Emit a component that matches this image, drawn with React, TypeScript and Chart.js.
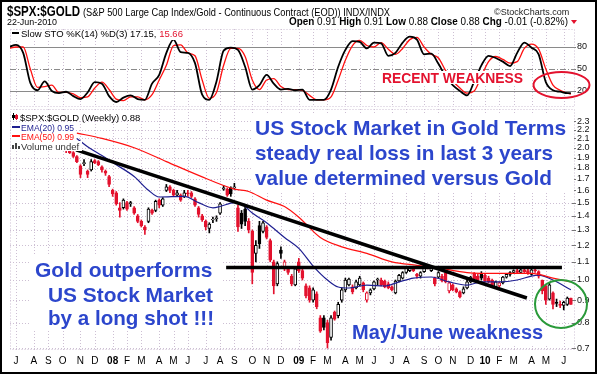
import React, { useEffect, useRef } from "react";
import { Chart, registerables } from "chart.js";

Chart.register(...registerables);

const FONT = "'Liberation Sans', Arial, sans-serif";
Chart.defaults.font.family = FONT;

// x values are week numbers: week 0 = week of 2 Jul 2007
const monthLabels = [
  "J", "A", "S", "O", "N", "D",
  "08", "F", "M", "A", "M", "J", "J", "A", "S", "O", "N", "D",
  "09", "F", "M", "A", "M", "J", "J", "A", "S", "O", "N", "D",
  "10", "F", "M", "A", "M", "J",
];
const monthWeeks = [
  0, 5, 9, 13, 18, 22,
  27, 31, 35, 40, 44, 48, 53, 57, 61, 66, 70, 74,
  79, 83, 87, 92, 96, 100, 105, 109, 114, 118, 122, 127,
  131, 135, 139, 144, 148, 153,
];
const priceTicks = [0.7, 0.8, 0.9, 1.0, 1.1, 1.2, 1.3, 1.4, 1.5, 1.6, 1.7, 1.8, 1.9, 2.0, 2.1, 2.2, 2.3];
const stoTicks = [20, 50, 80];

const firstWeek = 14;
const opens = [
  1.99, 1.97, 1.95, 1.91, 1.82, 1.84, 1.77, 1.78, 1.87, 1.86,
  1.81, 1.77, 1.72, 1.60, 1.58, 1.46, 1.46, 1.50, 1.49, 1.46,
  1.40, 1.36, 1.32, 1.36, 1.44, 1.44, 1.52, 1.48, 1.60, 1.63,
  1.60, 1.56, 1.56, 1.55, 1.58, 1.58, 1.53, 1.46, 1.40, 1.36,
  1.31, 1.37, 1.38, 1.42, 1.61, 1.61, 1.62, 1.62, 1.46, 1.42,
  1.45, 1.36, 1.29, 1.15, 1.33, 1.29, 1.32, 1.23, 1.10, 0.98,
  1.17, 1.06, 1.065, 1.02, 0.975, 1.10, 1.05, 0.97, 0.96, 0.90,
  0.93, 0.82, 0.82, 0.80, 0.74, 0.845, 0.83, 0.90, 0.95, 0.975,
  0.965, 0.96, 0.975, 0.985, 0.90, 0.935, 0.955, 1.00, 1.00, 0.995,
  0.98, 0.965, 0.935, 0.995, 1.01, 1.04, 1.05, 1.07, 1.03, 1.02,
  1.045, 1.075, 1.05, 1.01, 1.015, 1.02, 1.035, 0.945, 0.975, 0.955,
  0.94, 0.935, 0.96, 0.99, 1.035, 1.02, 1.035, 1.025, 1.01, 1.00,
  0.965, 0.97, 0.985, 1.015, 1.03, 1.04, 1.05, 1.04, 1.055, 1.05,
  1.03, 1.055, 1.045, 1.00, 0.97, 0.905, 0.935, 0.89, 0.88, 0.875,
  0.88, 0.91,
];
const highs = [
  2.00, 1.98, 1.96, 1.92, 1.83, 1.88, 1.78, 1.88, 1.88, 1.87,
  1.82, 1.78, 1.73, 1.61, 1.59, 1.50, 1.53, 1.51, 1.51, 1.47,
  1.41, 1.37, 1.33, 1.46, 1.45, 1.52, 1.53, 1.54, 1.65, 1.64,
  1.61, 1.60, 1.57, 1.60, 1.60, 1.59, 1.54, 1.47, 1.41, 1.37,
  1.35, 1.39, 1.40, 1.50, 1.64, 1.62, 1.63, 1.66, 1.48, 1.44,
  1.47, 1.38, 1.30, 1.23, 1.36, 1.36, 1.33, 1.24, 1.11, 1.10,
  1.19, 1.11, 1.07, 1.03, 1.07, 1.12, 1.06, 0.98, 0.97, 0.96,
  0.94, 0.83, 0.83, 0.81, 0.83, 0.85, 0.89, 0.96, 1.01, 1.01,
  0.975, 1.00, 1.02, 0.99, 0.94, 0.955, 0.995, 1.01, 1.01, 1.00,
  0.99, 0.97, 1.00, 1.03, 1.045, 1.07, 1.075, 1.075, 1.035, 1.045,
  1.09, 1.08, 1.07, 1.015, 1.045, 1.03, 1.04, 0.99, 0.98, 0.96,
  0.945, 0.965, 1.00, 1.02, 1.04, 1.03, 1.045, 1.03, 1.02, 1.005,
  0.995, 0.99, 1.02, 1.035, 1.045, 1.055, 1.06, 1.06, 1.065, 1.06,
  1.06, 1.06, 1.05, 1.00, 0.975, 0.985, 0.94, 0.905, 0.895, 0.895,
  0.915, 0.91,
];
const lows = [
  1.95, 1.94, 1.90, 1.85, 1.71, 1.82, 1.71, 1.77, 1.84, 1.82,
  1.76, 1.73, 1.63, 1.55, 1.48, 1.39, 1.45, 1.44, 1.47, 1.41,
  1.35, 1.32, 1.27, 1.35, 1.41, 1.43, 1.46, 1.47, 1.59, 1.58,
  1.55, 1.55, 1.51, 1.54, 1.55, 1.54, 1.47, 1.39, 1.36, 1.30,
  1.28, 1.35, 1.36, 1.41, 1.60, 1.55, 1.55, 1.61, 1.29, 1.31,
  1.33, 1.28, 0.98, 1.10, 1.18, 1.28, 1.24, 1.10, 0.93, 0.97,
  1.12, 1.05, 1.03, 0.97, 0.97, 1.04, 1.00, 0.91, 0.89, 0.89,
  0.86, 0.76, 0.77, 0.70, 0.73, 0.81, 0.82, 0.89, 0.94, 0.97,
  0.93, 0.955, 0.97, 0.94, 0.89, 0.925, 0.95, 0.975, 0.97, 0.96,
  0.955, 0.945, 0.93, 0.99, 1.005, 1.035, 1.045, 1.045, 1.01, 1.01,
  1.04, 1.06, 1.045, 0.97, 1.01, 0.99, 0.985, 0.935, 0.945, 0.935,
  0.91, 0.93, 0.955, 0.985, 1.00, 0.99, 1.00, 0.99, 0.985, 0.97,
  0.96, 0.955, 0.98, 1.01, 1.02, 1.035, 1.035, 1.035, 1.04, 1.03,
  1.025, 1.04, 1.01, 0.93, 0.88, 0.90, 0.86, 0.87, 0.865, 0.855,
  0.875, 0.88,
];
const closes = [
  1.97, 1.95, 1.91, 1.86, 1.74, 1.85, 1.74, 1.86, 1.85, 1.83,
  1.78, 1.75, 1.65, 1.57, 1.49, 1.44, 1.52, 1.45, 1.50, 1.42,
  1.36, 1.33, 1.30, 1.45, 1.42, 1.51, 1.48, 1.53, 1.63, 1.60,
  1.56, 1.58, 1.52, 1.58, 1.57, 1.55, 1.48, 1.41, 1.37, 1.32,
  1.34, 1.375, 1.385, 1.49, 1.62, 1.56, 1.57, 1.63, 1.32, 1.34,
  1.36, 1.30, 1.04, 1.20, 1.21, 1.35, 1.25, 1.11, 0.97, 1.09,
  1.15, 1.10, 1.04, 0.98, 1.06, 1.05, 1.01, 0.92, 0.90, 0.95,
  0.87, 0.765, 0.78, 0.72, 0.82, 0.815, 0.88, 0.95, 1.00, 1.005,
  0.94, 0.99, 1.01, 0.95, 0.935, 0.95, 0.99, 1.005, 0.975, 0.965,
  0.96, 0.95, 0.995, 1.025, 1.04, 1.065, 1.07, 1.05, 1.02, 1.04,
  1.08, 1.065, 1.065, 0.98, 1.04, 0.995, 0.99, 0.985, 0.95, 0.94,
  0.915, 0.955, 0.99, 1.015, 1.005, 1.00, 1.01, 0.995, 0.99, 0.975,
  0.99, 0.985, 1.015, 1.03, 1.04, 1.05, 1.04, 1.055, 1.045, 1.035,
  1.055, 1.05, 1.02, 0.945, 0.90, 0.975, 0.88, 0.885, 0.875, 0.89,
  0.91, 0.88,
];

const ema20Weeks = [17, 20, 24, 28, 33, 37, 40, 47, 51, 55, 57, 61, 63, 66, 70, 75, 79, 83, 87, 90, 93, 98, 103, 107, 111, 116, 121, 126, 130, 135, 140, 144, 146, 150, 155];
const ema20 = [2.10, 2.01, 1.92, 1.83, 1.72, 1.60, 1.545, 1.55, 1.50, 1.46, 1.47, 1.50, 1.49, 1.42, 1.35, 1.25, 1.18, 1.076, 1.00, 0.964, 0.959, 0.974, 0.969, 0.99, 1.01, 1.016, 0.99, 0.974, 0.99, 0.99, 1.00, 1.021, 1.026, 1.00, 0.95];
const ema50Weeks = [17, 24, 33, 42, 51, 61, 65, 70, 75, 79, 85, 91, 98, 105, 112, 118, 126, 135, 144, 150, 155];
const ema50 = [2.16, 2.10, 2.00, 1.86, 1.73, 1.61, 1.59, 1.52, 1.47, 1.39, 1.25, 1.19, 1.15, 1.10, 1.08, 1.065, 1.04, 1.035, 1.035, 1.01, 0.99];

const stoWeeks = [
  -2, 0, 2, 4, 6, 8, 10, 12, 14, 16, 18, 20, 22, 24, 26, 28, 30, 32, 34, 36,
  38, 40, 42, 44, 46, 48, 50, 52, 54, 56, 58, 60, 62, 64, 66, 68, 70, 72, 74, 76,
  78, 80, 82, 84, 86, 88, 90, 92, 94, 96, 98, 100, 102, 104, 106, 108, 110, 112, 114, 116,
  118, 120, 122, 124, 126, 128, 130, 132, 134, 136, 138, 140, 142, 144, 146, 148, 150, 152, 154, 155,
];
const stoK = [
  80, 83, 72, 31, 21, 33, 20, 17, 19, 13, 9, 18, 32, 30, 13, 5, 11, 14, 9, 8,
  30, 42, 72, 90, 73, 72, 58, 15, 8, 33, 75, 79, 76, 53, 22, 28, 42, 30, 22, 23,
  21, 22, 8, 8, 8, 22, 53, 76, 88, 87, 78, 86, 85, 68, 72, 86, 94, 90, 70, 71,
  57, 40, 28, 20, 14, 33, 55, 68, 65, 60, 54, 72, 86, 79, 70, 32, 21, 19, 17, 17.15,
];
const stoD = [
  78, 80, 80, 50, 25, 26, 28, 18, 18, 16, 11, 12, 24, 32, 22, 9, 7, 12, 12, 8,
  15, 35, 55, 82, 83, 72, 68, 35, 10, 18, 55, 78, 78, 67, 35, 22, 35, 37, 26, 22,
  22, 21, 14, 8, 8, 12, 35, 62, 82, 89, 82, 80, 86, 77, 70, 78, 90, 93, 80, 70,
  65, 48, 34, 24, 17, 20, 40, 60, 67, 63, 58, 60, 78, 84, 77, 50, 28, 21, 17, 15.66,
];

const downTrendWeeks = [16.8, 142.7];
const downTrendValues = [1.977, 0.91];
const supportWeeks = [58.7, 152.5];
const supportValues = [1.068, 1.068];

const X_MIN = -1.68;
const X_MAX = 156.15;
const Y_MIN = 0.693;
const Y_MAX = 2.45;
const STO_MIN = -1.8;
const STO_MAX = 104.5;

const RED = "#e3122e";
const BLACK = "#000000";
const NAVY = "#1e1e90";
const EMA_RED = "#ff1010";
const BLUE_TEXT = "#2c46cc";
const GRID = "#cdbfd3";

const candleColor = (i: number) => {
  const prev = i > 0 ? closes[i - 1] : opens[i];
  return closes[i] < prev ? RED : BLACK;
};

function drawGrid(chart: any, hValues: number[]) {
  const { ctx, chartArea: a, scales } = chart;
  ctx.save();
  ctx.strokeStyle = GRID;
  ctx.lineWidth = 1;
  ctx.setLineDash([1, 2]);
  ctx.beginPath();
  for (const w of monthWeeks) {
    const x = Math.round(scales.x.getPixelForValue(w)) + 0.5;
    ctx.moveTo(x, a.top);
    ctx.lineTo(x, a.bottom);
  }
  for (const v of hValues) {
    const y = Math.round(scales.y.getPixelForValue(v)) + 0.5;
    ctx.moveTo(a.left, y);
    ctx.lineTo(a.right, y);
  }
  ctx.stroke();
  ctx.strokeRect(a.left + 0.5, a.top + 0.5, a.width - 1, a.height - 1);
  ctx.setLineDash([]);
  ctx.strokeStyle = "#777";
  ctx.beginPath();
  for (const v of (chart.scales.y.ticks || []).map((t: any) => t.value)) {
    const y = Math.round(scales.y.getPixelForValue(v)) + 0.5;
    ctx.moveTo(a.right - 3, y);
    ctx.lineTo(a.right + 1, y);
  }
  ctx.stroke();
  ctx.restore();
}

function whiteBox(ctx: CanvasRenderingContext2D, x: number, y: number, w: number, h: number) {
  ctx.fillStyle = "#ffffff";
  ctx.fillRect(x, y, w, h);
}

function text(ctx: CanvasRenderingContext2D, s: string, x: number, y: number, font: string, color: string, maxWidth?: number) {
  ctx.font = font;
  ctx.fillStyle = color;
  ctx.textAlign = "left";
  ctx.textBaseline = "alphabetic";
  if (maxWidth) ctx.fillText(s, x, y, maxWidth);
  else ctx.fillText(s, x, y);
}

const mainPlugin = {
  id: "mainDecor",
  beforeDatasetsDraw(chart: any) {
    drawGrid(chart, priceTicks);
    const ctx = chart.ctx as CanvasRenderingContext2D;
    ctx.save();
    whiteBox(ctx, 252, 113, 322, 80);
    whiteBox(ctx, 30, 255, 192, 76);
    whiteBox(ctx, 347, 320, 206, 25);
    ctx.restore();
  },
  afterDatasetsDraw(chart: any) {
    const ctx = chart.ctx as CanvasRenderingContext2D;
    ctx.save();
    // legend
    const lf = `9.5px ${FONT}`;
    whiteBox(ctx, 11, 111, 147, 10);
    whiteBox(ctx, 11, 122, 63, 28);
    whiteBox(ctx, 11, 141, 71, 10);
    // candle icon
    ctx.fillStyle = BLACK;
    ctx.fillRect(13, 113, 1, 7);
    ctx.fillRect(12, 115, 3, 3);
    ctx.fillStyle = RED;
    ctx.fillRect(16, 114, 1, 6);
    ctx.fillRect(15, 115, 3, 4);
    text(ctx, "$SPX:$GOLD (Weekly) 0.88", 20, 120.5, lf, BLACK, 137);
    ctx.fillStyle = NAVY;
    ctx.fillRect(12, 126, 8, 2);
    text(ctx, "EMA(20) 0.95", 21, 130.5, lf, NAVY, 53);
    ctx.fillStyle = EMA_RED;
    ctx.fillRect(12, 135, 8, 2);
    text(ctx, "EMA(50) 0.99", 21, 140, lf, EMA_RED, 53);
    ctx.fillStyle = "#444";
    ctx.fillRect(12, 145, 2, 4);
    ctx.fillRect(15, 143, 2, 6);
    ctx.fillRect(18, 146, 2, 3);
    text(ctx, "Volume undef", 21, 149.5, lf, "#333", 59);

    // annotations
    const bf = `bold 21px ${FONT}`;
    text(ctx, "US Stock Market in Gold Terms", 255, 135, bf, BLUE_TEXT, 312);
    text(ctx, "steady real loss in last 3 years", 255, 160, bf, BLUE_TEXT, 298);
    text(ctx, "value determined versus Gold", 255, 185, bf, BLUE_TEXT, 297);
    text(ctx, "Gold outperforms", 35, 277, bf, BLUE_TEXT, 178);
    text(ctx, "US Stock Market", 48, 301.5, bf, BLUE_TEXT, 165);
    text(ctx, "by a long shot !!!", 48, 325, bf, BLUE_TEXT, 166);
    text(ctx, "May/June weakness", 352, 339, `bold 20px ${FONT}`, BLUE_TEXT, 196);
    ctx.restore();
  },
  afterDraw(chart: any) {
    const ctx = chart.ctx as CanvasRenderingContext2D;
    ctx.save();
    // green circle
    ctx.strokeStyle = "#2a9a3a";
    ctx.lineWidth = 2;
    ctx.beginPath();
    ctx.ellipse(561, 304, 26, 24, 0, 0, Math.PI * 2);
    ctx.stroke();

    // header
    text(ctx, "$SPX:$GOLD", 7, 16, `bold 14px ${FONT}`, BLACK, 73);
    text(ctx, "(S&P 500 Large Cap Index/Gold - Continuous Contract (EOD)) INDX/INDX", 83, 15.5, `10px ${FONT}`, BLACK, 307);
    text(ctx, "\u00A9StockCharts.com", 494, 15, `9px ${FONT}`, "#222", 82);
    text(ctx, "22-Jun-2010", 7, 25, `9px ${FONT}`, BLACK, 50);
    const segs: [string, string][] = [
      ["Open", "bold"], [" 0.91 ", ""], ["High", "bold"], [" 0.91 ", ""], ["Low", "bold"], [" 0.88 ", ""],
      ["Close", "bold"], [" 0.88 ", ""], ["Chg", "bold"], [" -0.01 (-0.82%)", ""],
    ];
    let total = 0;
    for (const [s, w] of segs) {
      ctx.font = `${w} 10px ${FONT}`;
      total += ctx.measureText(s).width;
    }
    const scale = Math.min(1, 279 / total);
    let x = 289;
    for (const [s, w] of segs) {
      ctx.font = `${w} 10px ${FONT}`;
      const wd = ctx.measureText(s).width * scale;
      text(ctx, s, x, 25, `${w} 10px ${FONT}`, BLACK, wd);
      x += wd;
    }
    ctx.fillStyle = RED;
    ctx.beginPath();
    ctx.moveTo(571, 20);
    ctx.lineTo(577, 20);
    ctx.lineTo(574, 24);
    ctx.closePath();
    ctx.fill();

    // frame
    ctx.strokeStyle = BLACK;
    ctx.lineWidth = 2;
    ctx.strokeRect(1, 1, 595, 372);
    ctx.restore();
  },
};

const stoPlugin = {
  id: "stoDecor",
  beforeDatasetsDraw(chart: any) {
    drawGrid(chart, []);
    const { ctx, chartArea: a, scales } = chart;
    ctx.save();
    ctx.strokeStyle = "#8a8a8a";
    ctx.lineWidth = 1;
    for (const v of stoTicks) {
      const y = Math.round(scales.y.getPixelForValue(v)) + 0.5;
      ctx.setLineDash(v === 50 ? [6, 2, 1, 2] : []);
      ctx.beginPath();
      ctx.moveTo(a.left, y);
      ctx.lineTo(a.right, y);
      ctx.stroke();
    }
    ctx.restore();
  },
  afterDatasetsDraw(chart: any) {
    const ctx = chart.ctx as CanvasRenderingContext2D;
    ctx.save();
    whiteBox(ctx, 11, 30, 198, 10);
    ctx.fillStyle = BLACK;
    ctx.fillRect(12, 32, 7, 2);
    const lf = `9.5px ${FONT}`;
    ctx.font = lf;
    const part1 = "Slow STO %K(14) %D(3) 17.15, ";
    text(ctx, part1, 21, 36.5, lf, BLACK, 150);
    const w1 = Math.min(150, ctx.measureText(part1).width);
    text(ctx, "15.66", 21 + w1, 36.5, lf, RED, 30);

    whiteBox(ctx, 380, 71, 146, 13);
    text(ctx, "RECENT WEAKNESS", 382, 82.7, `bold 15px ${FONT}`, RED, 141);

    ctx.strokeStyle = RED;
    ctx.lineWidth = 2;
    ctx.beginPath();
    ctx.ellipse(561.5, 85, 28, 13, 0, 0, Math.PI * 2);
    ctx.stroke();
    ctx.restore();
  },
};

export default function App() {
  const mainRef = useRef<HTMLCanvasElement>(null);
  const stoRef = useRef<HTMLCanvasElement>(null);

  useEffect(() => {
    const weeks = closes.map((_, i) => firstWeek + i);

    const main = new Chart(mainRef.current as HTMLCanvasElement, {
      type: "bar",
      data: {
        datasets: [
          {
            type: "line",
            label: "Downtrend",
            data: downTrendWeeks.map((w, i) => ({ x: w, y: downTrendValues[i] })),
            borderColor: BLACK,
            borderWidth: 3.5,
            pointRadius: 0,
            order: 0,
          } as any,
          {
            type: "line",
            label: "Support",
            data: supportWeeks.map((w, i) => ({ x: w, y: supportValues[i] })),
            borderColor: BLACK,
            borderWidth: 3.5,
            pointRadius: 0,
            order: 0,
          } as any,
          {
            type: "line",
            label: "EMA(50)",
            data: ema50Weeks.map((w, i) => ({ x: w, y: ema50[i] })),
            borderColor: EMA_RED,
            borderWidth: 1.2,
            pointRadius: 0,
            cubicInterpolationMode: "monotone",
            order: 1,
          } as any,
          {
            type: "line",
            label: "EMA(20)",
            data: ema20Weeks.map((w, i) => ({ x: w, y: ema20[i] })),
            borderColor: NAVY,
            borderWidth: 1.2,
            pointRadius: 0,
            cubicInterpolationMode: "monotone",
            order: 1,
          } as any,
          {
            type: "bar",
            label: "Body",
            data: weeks.map((w, i) => ({ x: w, y: [opens[i], closes[i]] })),
            backgroundColor: (c: any) => {
              const i = c.dataIndex;
              if (i === undefined) return RED;
              return closes[i] >= opens[i] ? "#ffffff" : candleColor(i);
            },
            borderColor: (c: any) => (c.dataIndex === undefined ? RED : candleColor(c.dataIndex)),
            borderWidth: 1,
            borderSkipped: false,
            barThickness: 3,
            grouped: false,
            order: 2,
          } as any,
          {
            type: "bar",
            label: "Range",
            data: weeks.map((w, i) => ({ x: w, y: [lows[i], highs[i]] })),
            backgroundColor: (c: any) => (c.dataIndex === undefined ? RED : candleColor(c.dataIndex)),
            borderWidth: 0,
            barThickness: 1,
            grouped: false,
            order: 3,
          } as any,
        ],
      },
      options: {
        responsive: false,
        animation: false,
        devicePixelRatio: 1,
        layout: { padding: { left: 10, top: 109, right: 0, bottom: 3 } },
        plugins: { legend: { display: false }, tooltip: { enabled: false } },
        scales: {
          x: {
            type: "linear",
            min: X_MIN,
            max: X_MAX,
            offset: false,
            grid: { display: false, drawTicks: false, offset: false },
            border: { display: false },
            afterBuildTicks: (s: any) => {
              s.ticks = monthWeeks.map((v) => ({ value: v }));
            },
            afterFit: (s: any) => {
              s.height = 22;
            },
            ticks: {
              autoSkip: false,
              maxRotation: 0,
              padding: 5,
              color: BLACK,
              font: (c: any) => ({
                family: FONT,
                size: 10,
                weight: c.index !== undefined && /\d/.test(monthLabels[c.index] || "") ? "bold" : "normal",
              }),
              callback: (v: any) => {
                const k = monthWeeks.indexOf(Number(v));
                return k >= 0 ? monthLabels[k] : "";
              },
            },
          } as any,
          y: {
            type: "logarithmic",
            position: "right",
            min: Y_MIN,
            max: Y_MAX,
            grid: { display: false, drawTicks: false },
            border: { display: false },
            afterBuildTicks: (s: any) => {
              s.ticks = priceTicks.map((v) => ({ value: v }));
            },
            afterFit: (s: any) => {
              s.width = 25;
            },
            ticks: {
              autoSkip: false,
              padding: 2,
              color: "#111",
              font: { family: FONT, size: 9 },
              callback: (v: any) => Number(v).toFixed(1),
            },
          } as any,
        },
      },
      plugins: [mainPlugin],
    } as any);

    const sto = new Chart(stoRef.current as HTMLCanvasElement, {
      type: "line",
      data: {
        datasets: [
          {
            label: "%K(14)",
            data: stoWeeks.map((w, i) => ({ x: w, y: stoK[i] })),
            borderColor: BLACK,
            borderWidth: 1.8,
            pointRadius: 0,
            cubicInterpolationMode: "monotone",
            order: 0,
          },
          {
            label: "%D(3)",
            data: stoWeeks.map((w, i) => ({ x: w, y: stoD[i] })),
            borderColor: EMA_RED,
            borderWidth: 1.3,
            pointRadius: 0,
            cubicInterpolationMode: "monotone",
            order: 1,
          },
        ],
      },
      options: {
        responsive: false,
        animation: false,
        devicePixelRatio: 1,
        layout: { padding: { left: 10, top: 29, right: 0, bottom: 268 } },
        plugins: { legend: { display: false }, tooltip: { enabled: false } },
        scales: {
          x: { type: "linear", display: false, min: X_MIN, max: X_MAX },
          y: {
            position: "right",
            min: STO_MIN,
            max: STO_MAX,
            grid: { display: false, drawTicks: false },
            border: { display: false },
            afterBuildTicks: (s: any) => {
              s.ticks = stoTicks.map((v) => ({ value: v }));
            },
            afterFit: (s: any) => {
              s.width = 25;
            },
            ticks: {
              autoSkip: false,
              padding: 2,
              color: "#111",
              font: { family: FONT, size: 9 },
            },
          } as any,
        },
      },
      plugins: [stoPlugin],
    } as any);

    return () => {
      main.destroy();
      sto.destroy();
    };
  }, []);

  return (
    <div style={{ position: "fixed", left: 0, top: 0, width: 600, height: 375, background: "#ffffff", overflow: "hidden" }}>
      <canvas ref={mainRef} width={600} height={375} style={{ position: "absolute", left: 0, top: 0, width: 600, height: 375 }} />
      <canvas ref={stoRef} width={600} height={375} style={{ position: "absolute", left: 0, top: 0, width: 600, height: 375 }} />
    </div>
  );
}
